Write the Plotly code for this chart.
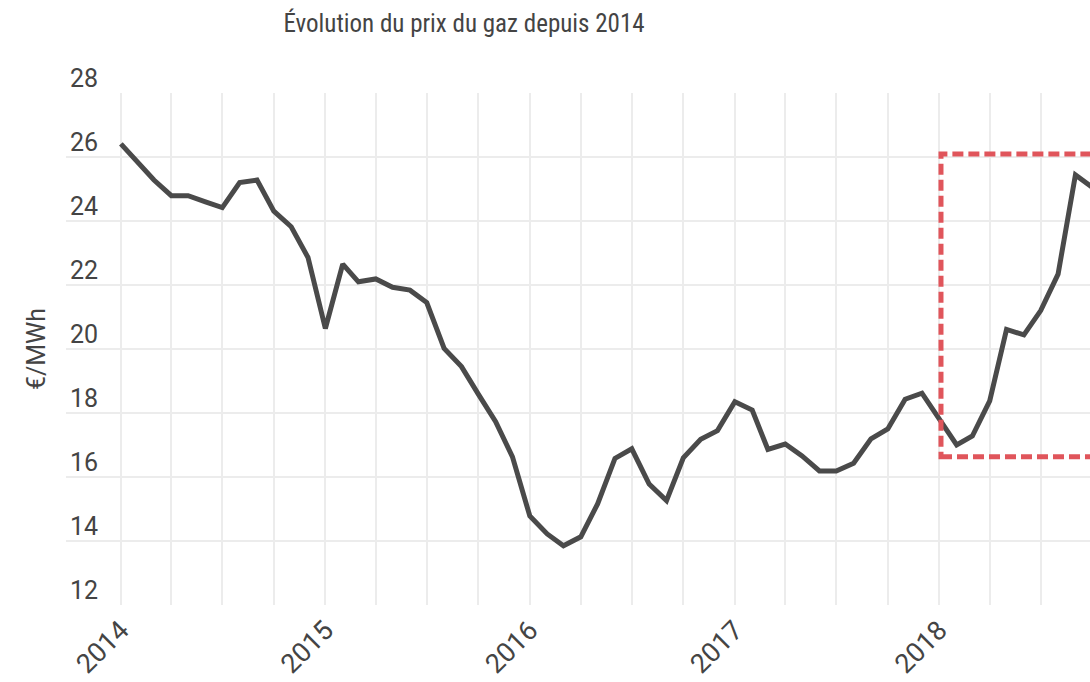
import pandas as pd
import plotly.graph_objects as go

# Monthly gas price (€/MWh), first day of each month
months = [
    "2014-01-01", "2014-02-01", "2014-03-01", "2014-04-01", "2014-05-01", "2014-06-01",
    "2014-07-01", "2014-08-01", "2014-09-01", "2014-10-01", "2014-11-01", "2014-12-01",
    "2015-01-01", "2015-02-01", "2015-03-01", "2015-04-01", "2015-05-01", "2015-06-01",
    "2015-07-01", "2015-08-01", "2015-09-01", "2015-10-01", "2015-11-01", "2015-12-01",
    "2016-01-01", "2016-02-01", "2016-03-01", "2016-04-01", "2016-05-01", "2016-06-01",
    "2016-07-01", "2016-08-01", "2016-09-01", "2016-10-01", "2016-11-01", "2016-12-01",
    "2017-01-01", "2017-02-01", "2017-03-01", "2017-04-01", "2017-05-01", "2017-06-01",
    "2017-07-01", "2017-08-01", "2017-09-01", "2017-10-01", "2017-11-01", "2017-12-01",
    "2018-01-01", "2018-02-01", "2018-03-01", "2018-04-01", "2018-05-01", "2018-06-01",
    "2018-07-01", "2018-08-01", "2018-09-01", "2018-10-01",
]
prices = [
    26.41, 25.80, 25.28, 24.79, 24.79, 24.60, 24.42, 25.20, 25.28, 24.31, 23.82, 22.86,
    20.64, 22.65, 22.10, 22.19, 21.93, 21.84, 21.45, 20.02, 19.45, 18.59, 17.73, 16.63,
    14.78, 14.22, 13.85, 14.13, 15.16, 16.58, 16.88, 15.78, 15.26, 16.60, 17.18, 17.45,
    18.35, 18.09, 16.86, 17.03, 16.66, 16.19, 16.19, 16.43, 17.19, 17.50, 18.43, 18.62,
    17.79, 17.00, 17.28, 18.38, 20.61, 20.44, 21.20, 22.34, 25.44, 25.05,
]
y_ticks = [12, 14, 16, 18, 20, 22, 24, 26, 28]

# highlighted zone
zone_x = ["2018-01-04", "2019-03-01"]
zone_y = [16.63, 26.09]

title_text = "Évolution du prix du gaz depuis 2014"
y_title = "€/MWh"

text_color = "#444444"
grid_color = "#ececec"

# quarterly grid lines from 2014 on
quarter_grid = pd.date_range("2014-01-01", "2019-01-01", freq="QS").strftime("%Y-%m-%d").tolist()

fig = go.Figure()
fig.add_trace(go.Scatter(
    x=months, y=prices, mode="lines",
    line=dict(color="#4a4a4a", width=5),
    hoverinfo="x+y", showlegend=False,
))

fig.add_shape(
    type="rect", xref="x", yref="y",
    x0=zone_x[0], x1=zone_x[1], y0=zone_y[0], y1=zone_y[1],
    line=dict(color="#e0555b", width=5, dash="11px,5px"),
    fillcolor="rgba(0,0,0,0)", layer="above",
)

fig.update_layout(
    width=1090, height=682,
    margin=dict(l=66, r=0, t=93, b=77, autoexpand=False),
    paper_bgcolor="white", plot_bgcolor="white",
    font=dict(family="Roboto, sans-serif", color=text_color),
    title=dict(
        text=title_text, x=0.4257, xanchor="center", xref="container",
        y=0.966, yanchor="middle", yref="container",
        font=dict(family="Roboto Condensed, DejaVu Sans Condensed, Roboto", size=25, color=text_color),
    ),
    xaxis=dict(
        type="date",
        range=["2013-09-25", "2018-09-27"],
        tick0="2014-01-01", dtick="M12", tickformat="%Y",
        tickangle=-45, tickfont=dict(size=27, color=text_color),
        ticklabelstandoff=3,
        showgrid=True, gridcolor=grid_color, gridwidth=2,
        minor=dict(tickmode="array", tickvals=quarter_grid, showgrid=True,
                   gridcolor=grid_color, gridwidth=2),
        zeroline=False, showline=False, ticks="", automargin=False,
    ),
    yaxis=dict(
        range=[12, 28], tickvals=y_ticks,
        ticklabelposition="outside",
        ticklabelstandoff=-33, ticklabelshift=-15,
        tickfont=dict(size=25, color=text_color),
        showgrid=True, gridcolor=grid_color, gridwidth=2,
        zeroline=False, showline=False, ticks="", automargin=False,
        title=dict(text=y_title, font=dict(size=25, color=text_color), standoff=17),
    ),
)

post = (
    "document.body.style.margin='0';"
    "document.body.style.overflow='hidden';"
    "document.documentElement.style.overflow='hidden';"
)
fig.write_html("out.html", post_script=post, config={"displayModeBar": False})
